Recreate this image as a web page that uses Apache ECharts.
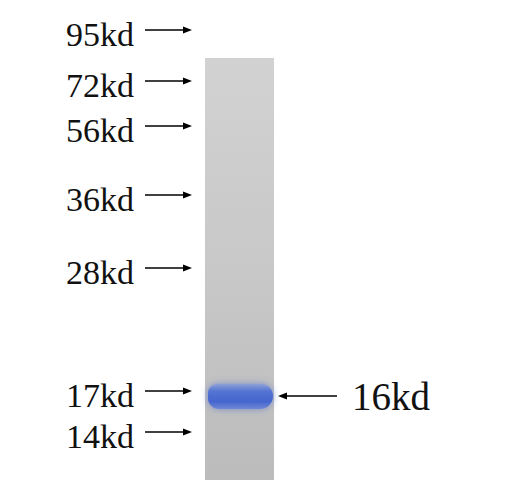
<!DOCTYPE html>
<html>
<head>
<meta charset="utf-8">
<script src="https://cdn.jsdelivr.net/npm/echarts@6/dist/echarts.min.js"></script>
<style>html,body{margin:0;padding:0;background:#fff;}#c{width:518px;height:480px;}</style>
</head>
<body>
<div id="c"></div>
<script>
// Marker ladder: labels and migration distance (px from top of image)
const markerLabels = ['95kd', '72kd', '56kd', '36kd', '28kd', '17kd', '14kd'];
const markerMigration = [30, 81, 126, 195, 268, 391, 432];
// Target protein band
const targetLabel = '16kd';
const targetMigration = 396;
// Lane extent (migration distance)
const laneStart = 58;
const laneEnd = 480;

const chart = echarts.init(document.getElementById('c'), null, { renderer: 'svg' });
const FONT = "'Liberation Serif','Times New Roman',serif";

function arrowGroup(api, x1, x2, y, dirRight) {
  const p1 = api.coord([x1, y]);
  const p2 = api.coord([x2, y]);
  const head = 9, hw = 3.5;
  let tip, base;
  if (dirRight) { tip = p2; base = [p2[0] - head, p2[1]]; }
  else { tip = p1; base = [p1[0] + head, p1[1]]; }
  return [
    { type: 'line', shape: { x1: dirRight ? p1[0] : base[0], y1: p1[1], x2: dirRight ? base[0] : p2[0], y2: p2[1] },
      style: { stroke: '#000', lineWidth: 1.6 } },
    { type: 'polygon', shape: { points: [tip, [base[0], base[1] - hw], [base[0], base[1] + hw]] },
      style: { fill: '#000' } }
  ];
}

const option = {
  animation: false,
  grid: { left: 0, right: 0, top: 0, bottom: 0 },
  xAxis: { type: 'value', min: 0, max: 518, show: false },
  yAxis: { type: 'value', min: 0, max: 480, inverse: true, show: false },
  series: [
    { // lane
      type: 'custom',
      data: [[laneStart, laneEnd]],
      renderItem: function (params, api) {
        const a = api.coord([205, api.value(0)]);
        const b = api.coord([274, api.value(1)]);
        return { type: 'rect', shape: { x: a[0], y: a[1], width: b[0] - a[0], height: b[1] - a[1] },
          style: { fill: new echarts.graphic.LinearGradient(0, 0, 0, 1, [
            { offset: 0, color: '#d2d2d2' }, { offset: 0.5, color: '#c8c8c8' }, { offset: 1, color: '#bcbcbc' }]) } };
      }
    },
    { // band
      type: 'custom',
      data: [[targetMigration]],
      renderItem: function (params, api) {
        const c = api.coord([240, api.value(0)]);
        const l = api.coord([208, 0])[0], r = api.coord([273, 0])[0];
        return { type: 'rect', shape: { x: l, y: c[1] - 12, width: r - l, height: 25, r: [9, 12, 13, 11] },
          style: { fill: new echarts.graphic.LinearGradient(0, 0, 0, 1, [
            { offset: 0, color: '#8da0d6' }, { offset: 0.3, color: '#5473d2' }, { offset: 0.7, color: '#4566cf' }, { offset: 1, color: '#7088d4' }]),
            shadowBlur: 7, shadowColor: 'rgba(90,115,205,0.7)' } };
      }
    },
    { // markers
      type: 'custom',
      data: markerLabels.map((l, i) => [markerMigration[i], l]),
      renderItem: function (params, api) {
        const y = api.value(0);
        const lbl = markerLabels[params.dataIndex];
        const t = api.coord([134, y + 4]);
        return { type: 'group', children: [
          { type: 'text', style: { x: t[0], y: t[1], text: lbl, fill: '#111', font: '34px ' + FONT, align: 'right', verticalAlign: 'middle' } }
        ].concat(arrowGroup(api, 145, 192, y, true)) };
      }
    },
    { // target label
      type: 'custom',
      data: [[targetMigration]],
      renderItem: function (params, api) {
        const y = api.value(0);
        const t = api.coord([352, y]);
        return { type: 'group', children: [
          { type: 'text', style: { x: t[0], y: t[1], text: targetLabel, fill: '#111', font: '39px ' + FONT, align: 'left', verticalAlign: 'middle' } }
        ].concat(arrowGroup(api, 278, 337, y, false)) };
      }
    }
  ]
};
chart.setOption(option);
</script>
</body>
</html>
